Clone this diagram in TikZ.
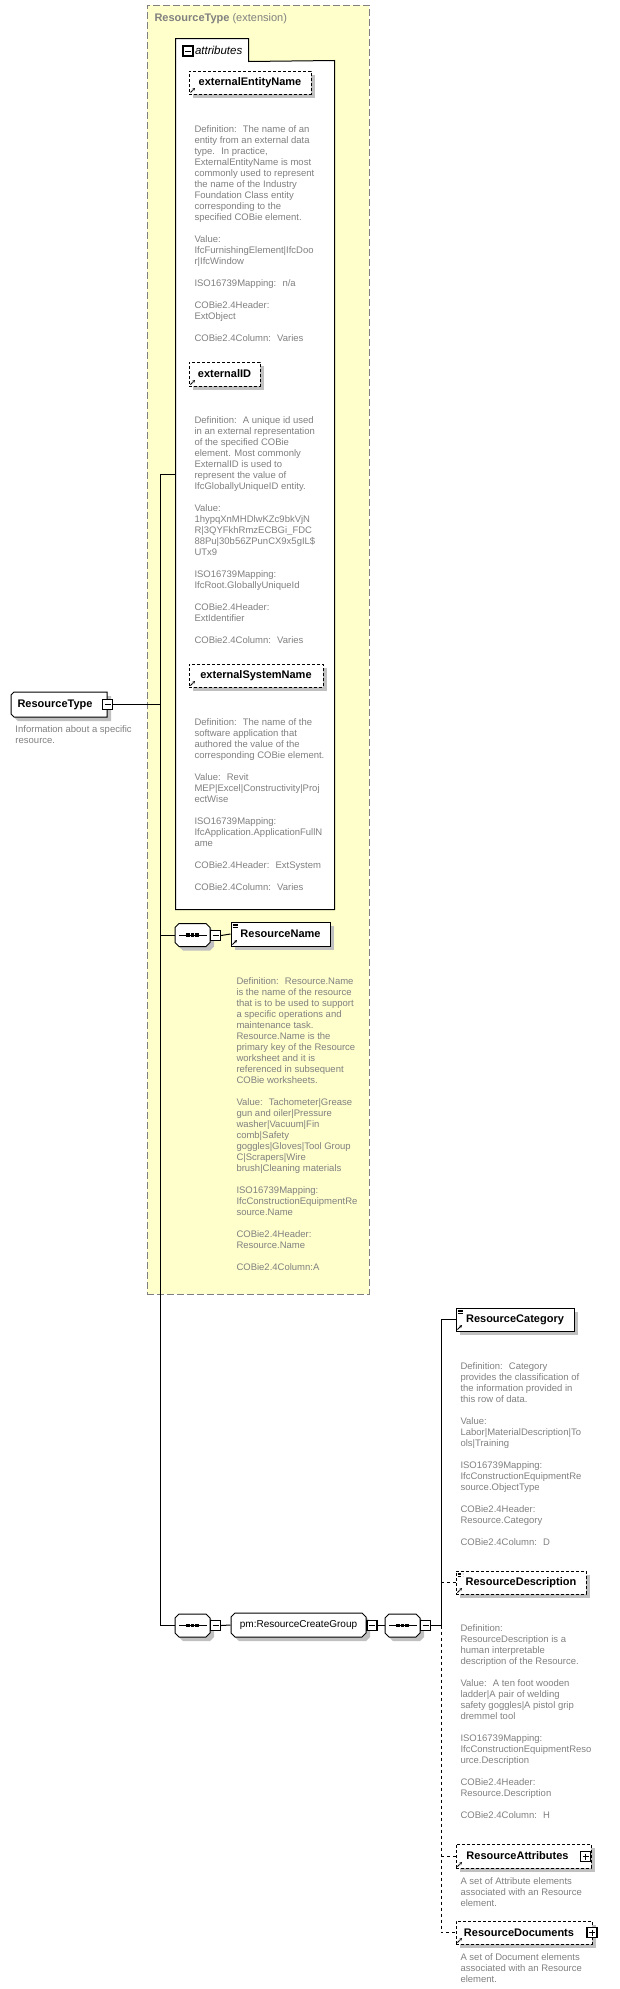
\documentclass[tikz,border=0pt]{standalone}
\usepackage{fontspec}
\setmainfont{Liberation Sans}
\usepackage{xcolor}
\usepackage{tikz}
\usetikzlibrary{shadows, arrows.meta}
\definecolor{extfill}{RGB}{255,255,204}
\definecolor{extline}{RGB}{128,128,128}
\definecolor{docgray}{RGB}{128,128,128}
\definecolor{shade}{RGB}{192,192,192}
\tikzstyle{elem} = [rectangle, draw=black, fill=white, inner sep=0pt, font=\bfseries\fontsize{11}{13}\selectfont, drop shadow={shadow xshift=4pt, shadow yshift=-4pt, fill=shade, opacity=1}]
\tikzstyle{optional} = [dash pattern=on 3pt off 2pt]
\tikzstyle{optline} = [dash pattern=on 3pt off 3pt]
\tikzstyle{refmark} = [path picture={
    \draw[line width=0.9pt, -{Stealth[length=3pt,width=3pt]}] ([xshift=1.5pt,yshift=1.5pt]path picture bounding box.south west) -- ++(4.5pt,4.5pt);}]
\tikzstyle{typedmark} = [path picture={
    \draw[line width=0.9pt, -{Stealth[length=3pt,width=3pt]}] ([xshift=1.5pt,yshift=1.5pt]path picture bounding box.south west) -- ++(4.5pt,4.5pt);
    \foreach \k in {2,3.8,5.6}
      \draw[line width=0.7pt] ([xshift=1.5pt,yshift=-\k pt]path picture bounding box.north west) -- ++(5pt,0pt);}]
\tikzstyle{shapeline} = [draw=black, fill=white, drop shadow={shadow xshift=4pt, shadow yshift=-4pt, fill=shade, opacity=1}]
\tikzstyle{holder} = [rectangle, inner sep=0pt]
\tikzstyle{minus} = [rectangle, draw=black, line width=1.2pt, fill=white, minimum size=10pt, inner sep=0pt, path picture={
    \draw[line width=0.9pt] ([xshift=2pt]path picture bounding box.west) -- ([xshift=-2pt]path picture bounding box.east);}]
\tikzstyle{plus} = [rectangle, draw=black, line width=1.2pt, fill=white, minimum size=10pt, inner sep=0pt, path picture={
    \draw[line width=0.9pt] ([xshift=2pt]path picture bounding box.west) -- ([xshift=-2pt]path picture bounding box.east);
    \draw[line width=0.9pt] ([yshift=-2pt]path picture bounding box.north) -- ([yshift=2pt]path picture bounding box.south);}]
\tikzstyle{annot} = [anchor=north west, inner sep=0pt, align=left, text=docgray, font=\fontsize{9.5}{11}\selectfont]

% octagon outline: centre x, centre y, width, height
\newcommand{\octbox}[4]{%
  \path[shapeline] ({#1-#3/2+4},{#2-#4/2}) -- ({#1+#3/2-4},{#2-#4/2}) -- ({#1+#3/2},{#2-#4/2+4})
    -- ({#1+#3/2},{#2+#4/2-4}) -- ({#1+#3/2-4},{#2+#4/2}) -- ({#1-#3/2+4},{#2+#4/2})
    -- ({#1-#3/2},{#2+#4/2-4}) -- ({#1-#3/2},{#2-#4/2+4}) -- cycle;}
% sequence compositor: centre x, centre y
\newcommand{\seqbox}[2]{%
  \octbox{#1}{#2}{35}{23}
  \draw[line width=1pt] ({#1-13.5},#2) -- ({#1+14.5},#2);
  \foreach \dx in {-4.5,0,4.5}
    \fill ({#1+\dx-1.7},{#2-1.7}) rectangle +(3.4pt,-3.4pt);}

\begin{document}
\begin{tikzpicture}[x=1pt, y=-1pt, line width=1pt]
\useasboundingbox (0,0) rectangle (620,1989);

% Extension
\node (ext) [rectangle, draw=extline, dash pattern=on 7pt off 3pt, fill=extfill, inner sep=0pt, minimum width=222pt, minimum height=1289pt] at (258,649.5) {};
\node (extTitle) [anchor=west, inner sep=0pt, text=docgray, font=\fontsize{11}{13}\selectfont] at (154,19) {\textbf{ResourceType} (extension)};

% Attributes
\node (attrBody) [rectangle, fill=white, inner sep=0pt, minimum width=158pt, minimum height=848pt] at (255,485) {};
\node (attrTab) [rectangle, fill=white, inner sep=0pt, minimum width=72pt, minimum height=22pt] at (212,50) {};
\draw (attrBody.south west) -- (attrTab.north west) -- (attrTab.north east) -- (attrTab.south east) -- (attrBody.north east) -- (attrBody.south east) -- cycle;
\node (attrToggle) [minus] at (188,51) {};
\node (attrLabel) [anchor=west, inner sep=0pt, font=\itshape\fontsize{11.5}{13}\selectfont] at (194.5,50.5) {attributes};

\node (extEntityName) [elem, optional, refmark, minimum width=122pt, minimum height=23pt] at (250,82.5) {externalEntityName};
\node (extEntityDoc) [annot] at (194,125.5) {Definition:~ The name of an\\
entity from an external data\\
type.~ In practice,\\
ExternalEntityName is most\\
commonly used to represent\\
the name of the Industry\\
Foundation Class entity\\
corresponding to the\\
specified COBie element.\\[11pt]
Value:\\
IfcFurnishingElement|IfcDoo\\
r|IfcWindow\\[11pt]
ISO16739Mapping:~ n/a\\[11pt]
COBie2.4Header:\\
ExtObject\\[11pt]
COBie2.4Column:~ Varies};

\node (extID) [elem, optional, refmark, minimum width=71pt, minimum height=24pt] at (224.5,374) {externalID};
\node (extIDDoc) [annot] at (194,416.5) {Definition:~ A unique id used\\
in an external representation\\
of the specified COBie\\
element. Most commonly\\
ExternalID is used to\\
represent the value of\\
IfcGloballyUniqueID entity.\\[11pt]
Value:\\
1hypqXnMHDlwKZc9bkVjN\\
R|3QYFkhRmzECBGi\_FDC\\
88Pu|30b56ZPunCX9x5gIL\$\\
UTx9\\[11pt]
ISO16739Mapping:\\
IfcRoot.GloballyUniqueId\\[11pt]
COBie2.4Header:\\
ExtIdentifier\\[11pt]
COBie2.4Column:~ Varies};

\node (extSysName) [elem, optional, refmark, minimum width=134pt, minimum height=23pt] at (256,675.5) {externalSystemName};
\node (extSysDoc) [annot] at (194,718.5) {Definition:~ The name of the\\
software application that\\
authored the value of the\\
corresponding COBie element.\\[11pt]
Value:~ Revit\\
MEP|Excel|Constructivity|Proj\\
ectWise\\[11pt]
ISO16739Mapping:\\
IfcApplication.ApplicationFullN\\
ame\\[11pt]
COBie2.4Header:~ ExtSystem\\[11pt]
COBie2.4Column:~ Varies};

% Root element
\path[shapeline] (14,692) -- (107,692) -- (107,717) -- (14,717) -- (11,714) -- (11,695) -- cycle;
\node (resType) [holder, font=\bfseries\fontsize{11}{13}\selectfont, minimum width=96pt, minimum height=25pt] at (59,704.5) {ResourceType\hspace*{8pt}};
\node (resTypeToggle) [minus] at (107.5,704.5) {};
\node (resTypeDoc) [annot] at (15,725.5) {Information about a specific\\
resource.};

% ResourceName
\seqbox{192.5}{935}
\node (seqName) [holder, minimum width=35pt, minimum height=23pt] at (192.5,935) {};
\node (seqNameToggle) [minus] at (215.5,935.5) {};
\node (resName) [elem, typedmark, minimum width=99pt, minimum height=24pt] at (280.5,934) {ResourceName};
\node (resNameDoc) [annot] at (236,977.5) {Definition:~ Resource.Name\\
is the name of the resource\\
that is to be used to support\\
a specific operations and\\
maintenance task.\\
Resource.Name is the\\
primary key of the Resource\\
worksheet and it is\\
referenced in subsequent\\
COBie worksheets.\\[11pt]
Value:~ Tachometer|Grease\\
gun and oiler|Pressure\\
washer|Vacuum|Fin\\
comb|Safety\\
goggles|Gloves|Tool Group\\
C|Scrapers|Wire\\
brush|Cleaning materials\\[11pt]
ISO16739Mapping:\\
IfcConstructionEquipmentRe\\
source.Name\\[11pt]
COBie2.4Header:\\
Resource.Name\\[11pt]
COBie2.4Column:A};

% Group
\seqbox{192.5}{1625.5}
\node (seqGroup) [holder, minimum width=35pt, minimum height=23pt] at (192.5,1625.5) {};
\node (seqGroupToggle) [minus] at (215.5,1625.5) {};
\octbox{298.5}{1625}{135}{24}
\node (group) [holder, font=\fontsize{10}{12}\selectfont, minimum width=135pt, minimum height=24pt] at (298.5,1625) {pm:ResourceCreateGroup};
\node (groupToggle) [minus] at (372,1625.5) {};
\seqbox{402.5}{1625.5}
\node (seqInner) [holder, minimum width=35pt, minimum height=23pt] at (402.5,1625.5) {};
\node (seqInnerToggle) [minus] at (425.5,1625.5) {};

% Group members
\node (resCategory) [elem, typedmark, minimum width=118pt, minimum height=23pt] at (515,1319.5) {ResourceCategory};
\node (resCategoryDoc) [annot] at (460,1362.5) {Definition:~ Category\\
provides the classification of\\
the information provided in\\
this row of data.\\[11pt]
Value:\\
Labor|MaterialDescription|To\\
ols|Training\\[11pt]
ISO16739Mapping:\\
IfcConstructionEquipmentRe\\
source.ObjectType\\[11pt]
COBie2.4Header:\\
Resource.Category\\[11pt]
COBie2.4Column:~ D};

\node (resDescription) [elem, optional, typedmark, minimum width=130pt, minimum height=23pt] at (521,1582.5) {ResourceDescription};
\node (resDescriptionDoc) [annot] at (460,1624.5) {Definition:\\
ResourceDescription is a\\
human interpretable\\
description of the Resource.\\[11pt]
Value:~ A ten foot wooden\\
ladder|A pair of welding\\
safety goggles|A pistol grip\\
dremmel tool\\[11pt]
ISO16739Mapping:\\
IfcConstructionEquipmentReso\\
urce.Description\\[11pt]
COBie2.4Header:\\
Resource.Description\\[11pt]
COBie2.4Column:~ H};

\node (resAttributes) [elem, optional, refmark, minimum width=135pt, minimum height=24pt] at (523.5,1856) {ResourceAttributes\hspace*{12pt}};
\node (resAttributesToggle) [plus] at (585.5,1856.5) {};
\node (resAttributesDoc) [annot] at (460,1877) {A set of Attribute elements\\
associated with an Resource\\
element.};

\node (resDocuments) [elem, optional, refmark, minimum width=136pt, minimum height=23pt] at (524,1932.5) {ResourceDocuments\hspace*{10pt}};
\node (resDocumentsToggle) [plus] at (592,1932.5) {};
\node (resDocumentsDoc) [annot] at (460,1953) {A set of Document elements\\
associated with an Resource\\
element.};

% Connectors
\coordinate (busL) at (160,474);
\coordinate (busR) at (441,1625.5);
\draw (busL) -- (busL -| attrBody.west);
\draw (resTypeToggle.east) -- (resTypeToggle.east -| busL);
\draw (busL) |- (seqGroup.west);
\draw (seqName.west -| busL) -- (seqName.west);
\draw (seqNameToggle.east) -- (resName.west);
\draw (seqGroupToggle.east) -- (group.west);
\draw (groupToggle.east) -- (seqInner.west);
\draw (seqInnerToggle.east) -- (busR);
\draw (resCategory.west) -| (busR);
\draw [optline] (busR) |- (resDocuments.west);
\draw [optline] (resDescription.west -| busR) -- (resDescription.west);
\draw [optline] (resAttributes.west -| busR) -- (resAttributes.west);

\end{tikzpicture}
\end{document}
